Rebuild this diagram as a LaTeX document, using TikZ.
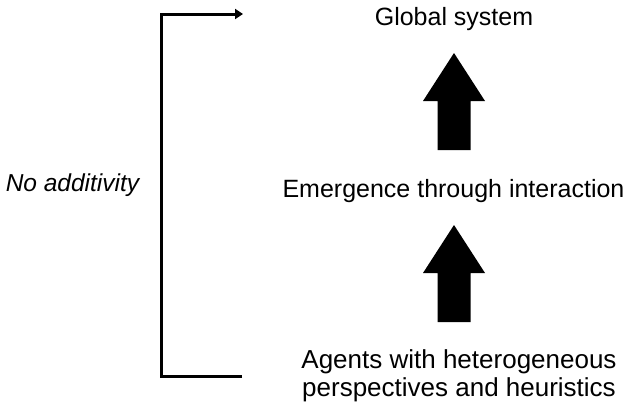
\documentclass[tikz,border=0pt]{standalone}
\usepackage{fontspec}
\setmainfont{Liberation Sans}
\usetikzlibrary{arrows.meta,positioning}
\tikzset{
  lbl/.style={font=\fontsize{25}{28}\selectfont,inner sep=0pt,anchor=base},
  brk/.style={line width=3pt,black},
  blkarrow/.pic={\fill[black] (0,0)--(31,48)--(16.5,48)--(16.5,97)--(-16.5,97)--(-16.5,48)--(-31,48)--cycle;}
}
\begin{document}
\begin{tikzpicture}[x=1pt,y=-1pt]
\fill[white] (0,0) rectangle (627,402);
\useasboundingbox (0,0) rectangle (627,402);
% levels
\node[lbl] (global) at (454,25) {Global system};
\node[lbl] (emerge) at (453.5,197) {Emergence through interaction};
\node[lbl,anchor=north,align=center,font=\fontsize{26}{28}\selectfont] (agents) at (459,349.5) {Agents with heterogeneous\\perspectives and heuristics};
\node[lbl,font=\fontsize{24.5}{28}\selectfont\itshape] (noadd) at (72.5,191) {No additivity};
% block arrows
\pic at (454,53) {blkarrow};
\pic at (454,225) {blkarrow};
% bracket
\coordinate (brtop) at (243,14);
\coordinate (brbot) at (242,376);
\draw[brk,-{Triangle[length=8pt,width=10pt]}] (brbot) -- ++(-81,0) |- (brtop);
\end{tikzpicture}
\end{document}
